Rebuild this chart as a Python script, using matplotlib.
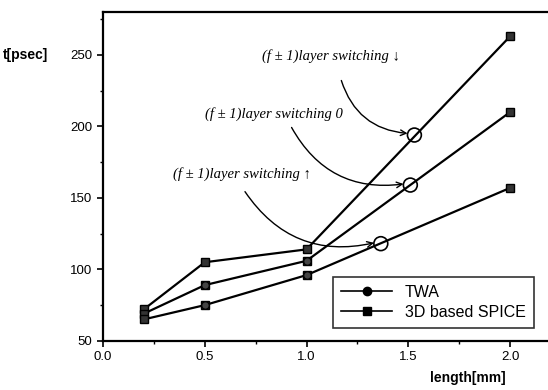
import matplotlib
matplotlib.use("Agg")
import matplotlib.pyplot as plt

# data
length_mm = [0.2, 0.5, 1.0, 2.0]
spice_down = [72, 105, 114, 263]
spice_zero = [69, 89, 106, 210]
spice_up = [65, 75, 96, 157]
twa_down = [72, 105, 114, 263]
twa_zero = [69, 89, 106, 210]
twa_up = [65, 75, 96, 157]

labels = ["(f \u00b1 1)layer switching \u2193",
          "(f \u00b1 1)layer switching 0",
          "(f \u00b1 1)layer switching \u2191"]
label_xy = [(1.12, 249), (0.84, 209), (0.685, 167)]
curve_start = [(1.167, 234), (0.92, 201), (0.69, 156)]
circle_xy = [(1.53, 194), (1.51, 159), (1.365, 118)]

SANS = ["Liberation Sans", "DejaVu Sans"]
SERIF = ["Liberation Serif", "DejaVu Serif"]

fig = plt.figure(figsize=(5.48, 3.90), dpi=100)
ax = fig.add_axes([0.188, 0.126, 0.817, 0.843])

for ys in (spice_down, spice_zero, spice_up):
    ax.plot(length_mm, ys, color="black", lw=1.6, marker="s", ms=5.5,
            mfc="#333333", mec="black", zorder=3)
for ys, z in ((twa_down, 2), (twa_zero, 4), (twa_up, 4)):
    ax.plot(length_mm[1:3], ys[1:3], color="black", lw=0, marker="o", ms=5.5,
            mfc="#444444", mec="black", zorder=z)

# legend proxies
ax.plot([], [], color="black", lw=1.2, marker="o", ms=6, mfc="black", label="TWA")
ax.plot([], [], color="black", lw=1.2, marker="s", ms=6, mfc="black", label="3D based SPICE")

for txt, (tx, ty), (sx, sy), (cx, cy) in zip(labels, label_xy, curve_start, circle_xy):
    ax.text(tx, ty, txt, fontsize=10.5, style="italic", family=SERIF, ha="center", va="center")
    ax.scatter([cx], [cy], s=100, facecolors="none", edgecolors="black", lw=1.2, zorder=5)
    ax.annotate("", xy=(cx - 0.02, cy + 1), xytext=(sx, sy),
                arrowprops=dict(arrowstyle="->", color="black", lw=1.0,
                                connectionstyle="arc3,rad=0.35"))

ax.set_xlim(0, 2.2)
ax.set_ylim(50, 280)
ax.set_xticks([0.0, 0.5, 1.0, 1.5, 2.0])
ax.set_xticks([0.25, 0.75, 1.25, 1.75], minor=True)
ax.set_yticks([50, 100, 150, 200, 250])
ax.set_yticks([75, 125, 175, 225, 275], minor=True)
ax.set_xticklabels(["0.0", "0.5", "1.0", "1.5", "2.0"], family=SANS, fontsize=9.5)
ax.set_yticklabels(["50", "100", "150", "200", "250"], family=SANS, fontsize=9.5)
ax.tick_params(which="major", direction="out", length=4, width=1.2)
ax.tick_params(which="minor", direction="out", length=2.5, width=1.0)
for sp in ax.spines.values():
    sp.set_linewidth(1.6)

leg = ax.legend(loc="lower right", bbox_to_anchor=(0.962, 0.04), fancybox=False,
                edgecolor="black", prop={"family": SANS, "size": 11.5},
                handlelength=3.2, borderpad=0.5, labelspacing=0.3,
                borderaxespad=0.0)
leg.get_frame().set_linewidth(1.2)

fig.text(0.005, 0.858, "t[psec]", family=SANS, fontsize=10, fontweight="bold",
         ha="left", va="center")
fig.text(0.785, 0.03, "length[mm]", family=SANS, fontsize=10, fontweight="bold",
         ha="left", va="center")

fig.savefig("out.png", dpi=100)
